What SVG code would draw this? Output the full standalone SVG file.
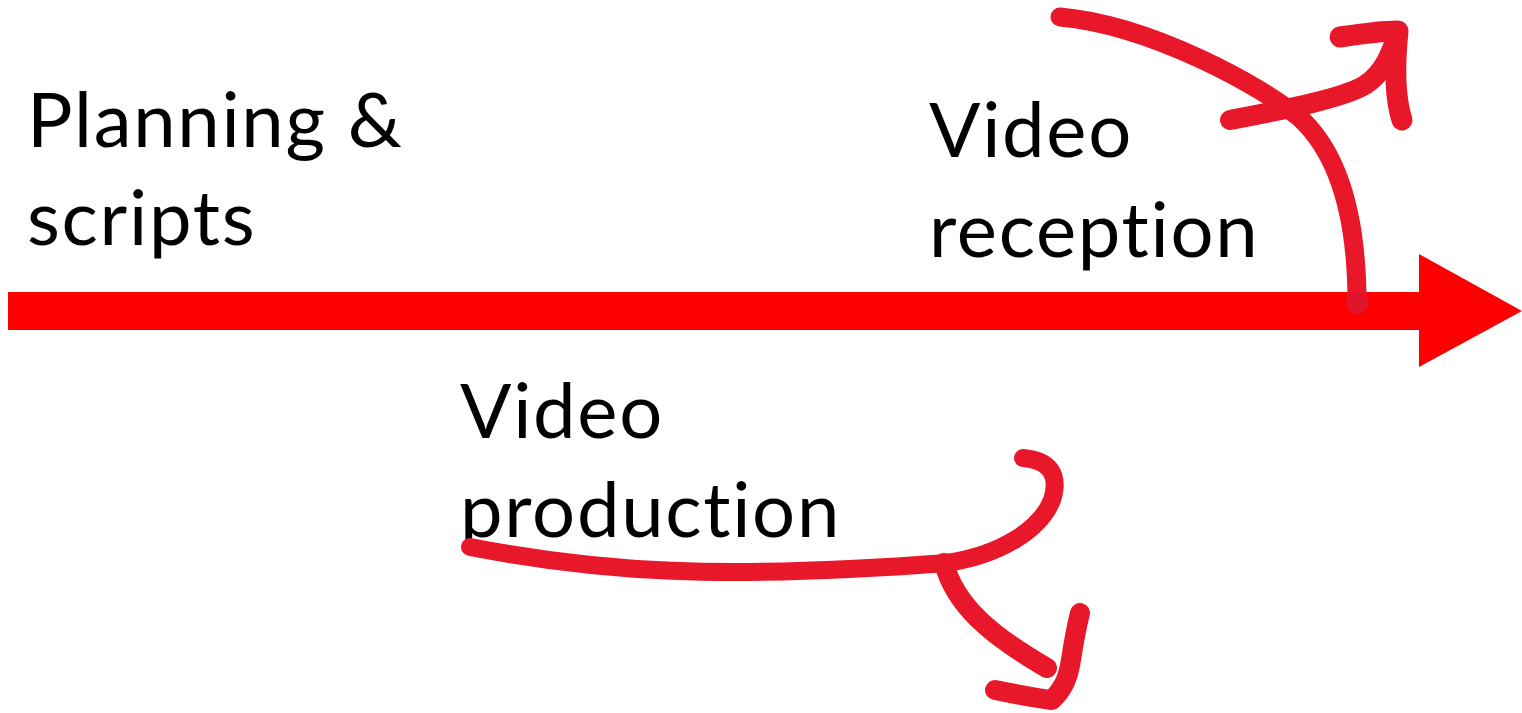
<svg xmlns="http://www.w3.org/2000/svg" width="1522" height="713" viewBox="0 0 1522 713">
<style>
.lbl{font-family:Lato,"Liberation Sans",sans-serif;font-size:76px;letter-spacing:1.7px;font-variant-ligatures:none;fill:#000}
.ink{fill:none;stroke:#E8172A;stroke-linecap:round;stroke-linejoin:round}
</style>
<rect width="1522" height="713" fill="#fff"/>
<g id="timeline">
<polygon points="8,292 1419,292 1419,254 1522,311 1419,367 1419,330 8,330" fill="#FF0000"/>
</g>
<g id="planning">
<text class="lbl" x="27" y="147">Planning &amp;</text>
<text class="lbl" x="27" y="245">scripts</text>
</g>
<g id="reception">
<text class="lbl" x="929" y="157">Video</text>
<text class="lbl" x="929" y="257">reception</text>
</g>
<g id="production">
<text class="lbl" x="460" y="438">Video</text>
<text class="lbl" x="460" y="537">production</text>
</g>
<g id="connectors">
<path class="ink" stroke-width="19" d="M1060,17 C1150,25 1260,85 1300,118 C1340,155 1357,220 1357,303"/>
<circle cx="1357" cy="303" r="11" fill="#E0152B"/>
<path class="ink" stroke-width="20" d="M1230,120 C1270,112 1340,100 1365,85 C1385,72 1392,50 1398,32"/>
<path class="ink" stroke-width="21" d="M1340,37 C1360,34 1380,31 1398,31 C1395,60 1394,95 1402,120"/>
<path class="ink" stroke-width="18" d="M470,547 C600,572 720,580 947,563 C1000,555 1040,530 1052,500 C1060,475 1050,460 1023,458"/>
<path class="ink" stroke-width="20" d="M944,563 C955,605 990,635 1047,668"/>
<path class="ink" stroke-width="20" d="M995,690 C1015,694 1035,698 1052,700 C1062,690 1068,680 1071,660 C1074,640 1077,625 1080,613"/>
</g>
</svg>
